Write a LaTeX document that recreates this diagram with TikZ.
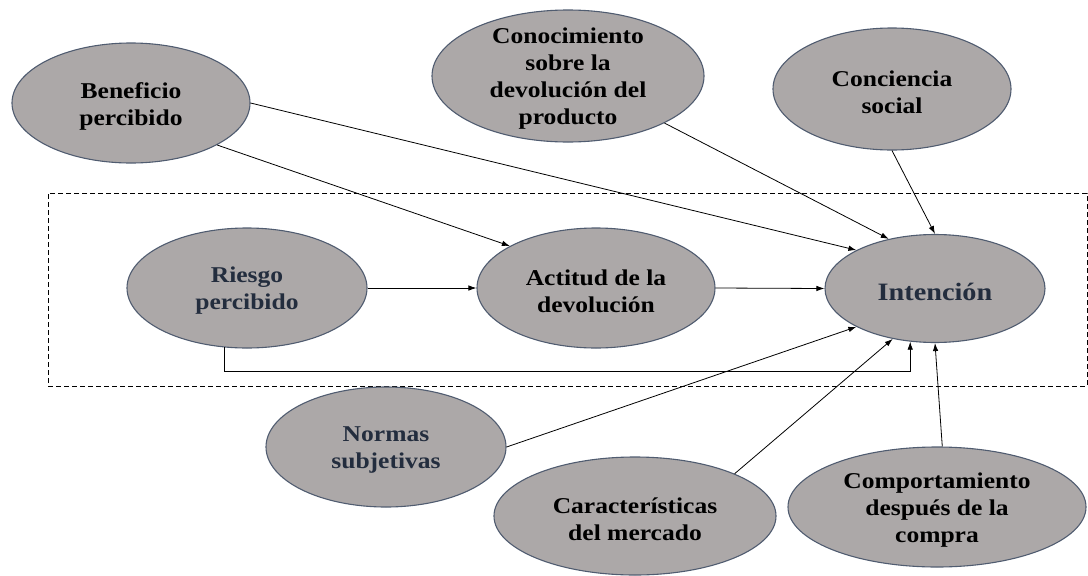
\documentclass[tikz,border=0pt]{standalone}
\usepackage{fontspec}
\setmainfont{Liberation Serif}[FakeStretch=1.13]
\usetikzlibrary{shapes.geometric,arrows.meta}
\definecolor{ellfill}{RGB}{172,168,168}
\definecolor{elldraw}{RGB}{80,92,112}
\definecolor{navy}{RGB}{35,45,62}
\begin{document}
\begin{tikzpicture}[x=1pt,y=-1pt,
  ell/.style={ellipse, draw=elldraw, line width=1.1pt, fill=ellfill, inner sep=0pt},
  lbl/.style={align=center, inner sep=0pt, yshift=-3pt, font=\fontsize{22.6}{27}\selectfont\bfseries},
  lblnavy/.style={lbl, text=navy},
  arr/.style={-{Latex[length=8pt,width=5.5pt]}, line width=0.8pt, black},
  frame/.style={draw=black, line width=0.9pt, dash pattern=on 5pt off 3pt, inner sep=0pt}]
\useasboundingbox (0,0) rectangle (1088,576);
\node[frame, minimum width=1039pt, minimum height=193pt] (frm) at (567.5,289.5) {};

\node[ell, minimum width=238pt, minimum height=120pt, label={[lbl]center:Beneficio\\percibido}] (ben) at (131,103) {};
\node[ell, minimum width=272pt, minimum height=132pt, label={[lbl]center:Conocimiento\\sobre la\\devolución del\\producto}] (con) at (568,76) {};
\node[ell, minimum width=238pt, minimum height=122pt, label={[lbl]center:Conciencia\\social}] (cs) at (892,89) {};
\node[ell, minimum width=240pt, minimum height=120pt, label={[lblnavy]center:Riesgo\\percibido}] (rie) at (247,288) {};
\node[ell, minimum width=238pt, minimum height=120pt, label={[lbl]center:Actitud de la\\devolución}] (act) at (596,288) {};
\node[ell, minimum width=220pt, minimum height=108pt, label={[lblnavy, font=\fontsize{25}{30}\selectfont\bfseries]center:Intención}] (int) at (935,288.5) {};
\node[ell, minimum width=240pt, minimum height=120pt, label={[lblnavy]center:Normas\\subjetivas}] (nor) at (386,447) {};
\node[ell, minimum width=282pt, minimum height=118pt, label={[lbl]center:Características\\del mercado}] (car) at (635,516) {};
\node[ell, minimum width=298pt, minimum height=120pt, label={[lbl]center:Comportamiento\\después de la\\compra}] (comp) at (937,507) {};

\draw[arr] (ben.0) -- (int.154.3);
\draw[arr] (ben.-26.6) -- (act.154);
\draw[arr] (con.-26.6) -- (int.133.1);
\draw[arr] (cs.south) -- (int.north);
\draw[arr] (rie.east) -- (act.west);
\draw[arr] (act.east) -- (int.west);
\draw[arr] (rie.249.6) -- ++(0,24) -| (int.245.5);
\draw[arr] (nor.east) -- (int.206.3);
\draw[arr] (car.23.3) -- (int.230.6);
\draw[arr] (comp.85) -- (int.south);
\end{tikzpicture}
\end{document}
